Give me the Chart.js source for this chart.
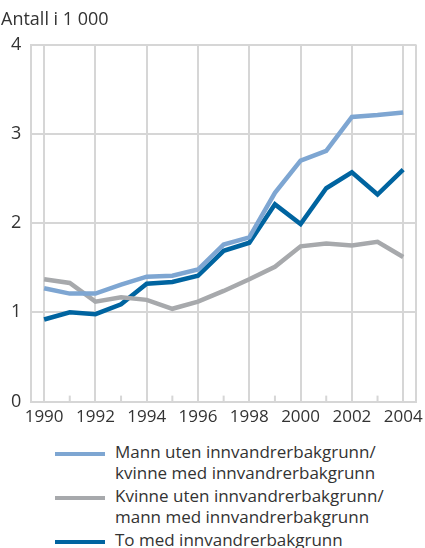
<!DOCTYPE html>
<html>
<head>
<meta charset="utf-8">
<script src="https://cdn.jsdelivr.net/npm/chart.js@4"></script>
<style>
    body { margin: 0; background: #fff; font-family: "Open Sans", sans-serif; color: #333; }
    #wrap { position: relative; width: 425px; height: 432px; }
    #legend { margin: 9px 0 0 55px; }
    .item { display: flex; align-items: flex-start; margin-bottom: 2px; }
    .swatch { width: 50px; height: 4px; margin-top: 11px; margin-right: 10px; flex: none; }
    .txt { font-size: 17px; line-height: 21px; }
</style>
</head>
<body>
<div id="wrap"><canvas id="lineCanvas"></canvas></div>
<div id="legend"></div>
<script>
let years = [1990, 1991, 1992, 1993, 1994, 1995, 1996, 1997, 1998, 1999, 2000, 2001, 2002, 2003, 2004];
let mannUten = [1.27, 1.21, 1.21, 1.31, 1.40, 1.41, 1.48, 1.76, 1.84, 2.34, 2.70, 2.81, 3.19, 3.21, 3.24];
let kvinneUten = [1.37, 1.33, 1.12, 1.17, 1.14, 1.04, 1.12, 1.24, 1.37, 1.51, 1.74, 1.77, 1.75, 1.79, 1.62];
let toMed = [0.92, 1.00, 0.98, 1.09, 1.32, 1.34, 1.41, 1.69, 1.78, 2.21, 1.99, 2.39, 2.57, 2.32, 2.60];
let labels = [
    ["Mann uten innvandrerbakgrunn/", "kvinne med innvandrerbakgrunn"],
    ["Kvinne uten innvandrerbakgrunn/", "mann med innvandrerbakgrunn"],
    ["To med innvandrerbakgrunn"]
];
let colors = ["#7ea6d2", "#a7a9ac", "#0064a0"];
let yTicks = [0, 1, 2, 3, 4];

function points(values) {
    return years.map(function(y, i) { return { x: y, y: values[i] }; });
}

let gridColor = "#d6d6d6";
let textColor = "#333";

// small tick marks for odd years, drawn inside the plot above the axis
let oddTicks = {
    id: "oddTicks",
    afterDatasetsDraw: function(chart) {
        let ctx = chart.ctx;
        let xs = chart.scales.x;
        let yb = chart.scales.y.getPixelForValue(0);
        ctx.save();
        ctx.strokeStyle = gridColor;
        ctx.lineWidth = 2;
        years.forEach(function(y) {
            if (y % 2 == 1) {
                let px = xs.getPixelForValue(y);
                ctx.beginPath();
                ctx.moveTo(px, yb);
                ctx.lineTo(px, yb - 6);
                ctx.stroke();
            }
        });
        ctx.restore();
    }
};

let lineChart = new Chart(document.getElementById("lineCanvas"), {
    type: "line",
    data: {
        datasets: [
            { label: labels[0].join(" "), data: points(mannUten), borderColor: colors[0] },
            { label: labels[1].join(" "), data: points(kvinneUten), borderColor: colors[1] },
            { label: labels[2].join(" "), data: points(toMed), borderColor: colors[2] }
        ]
    },
    options: {
        responsive: true,
        maintainAspectRatio: false,
        animation: false,
        layout: { padding: { left: 1, right: 9, top: 0, bottom: 0 } },
        elements: {
            line: { borderWidth: 4.5, tension: 0, borderJoinStyle: "miter", borderCapStyle: "butt" },
            point: { radius: 0 }
        },
        scales: {
            x: {
                type: "linear",
                min: 1989.5,
                max: 2004.5,
                afterBuildTicks: function(axis) {
                    let t = [{ value: 1989.5 }];
                    years.forEach(function(y) { if (y % 2 == 0) t.push({ value: y }); });
                    t.push({ value: 2004.5 });
                    axis.ticks = t;
                },
                ticks: {
                    color: textColor,
                    font: { family: "Open Sans", size: 17 },
                    padding: 5,
                    maxRotation: 0,
                    autoSkip: false,
                    callback: function(value) {
                        return Number.isInteger(value) ? String(value) : "";
                    }
                },
                grid: { color: gridColor, lineWidth: 2, drawTicks: false },
                border: { color: gridColor, width: 2 }
            },
            y: {
                min: 0,
                max: 4,
                afterBuildTicks: function(axis) {
                    axis.ticks = yTicks.map(function(v) { return { value: v }; });
                },
                ticks: {
                    color: textColor,
                    font: { family: "Open Sans", size: 18 },
                    padding: 10
                },
                grid: { color: gridColor, lineWidth: 2, drawTicks: false },
                border: { color: gridColor, width: 2 }
            }
        },
        plugins: {
            legend: { display: false },
            tooltip: { enabled: false },
            title: {
                display: true,
                text: "Antall i 1 000",
                align: "start",
                color: textColor,
                font: { family: "Open Sans", size: 18, weight: "normal" },
                padding: { top: 9, bottom: 14 }
            }
        }
    },
    plugins: [oddTicks]
});

// legend as html under the chart
let legend = document.getElementById("legend");
labels.forEach(function(lines, i) {
    let item = document.createElement("div");
    item.className = "item";
    let sw = document.createElement("div");
    sw.className = "swatch";
    sw.style.backgroundColor = colors[i];
    let txt = document.createElement("div");
    txt.className = "txt";
    txt.innerHTML = lines.join("<br>");
    item.appendChild(sw);
    item.appendChild(txt);
    legend.appendChild(item);
});
</script>
</body>
</html>
